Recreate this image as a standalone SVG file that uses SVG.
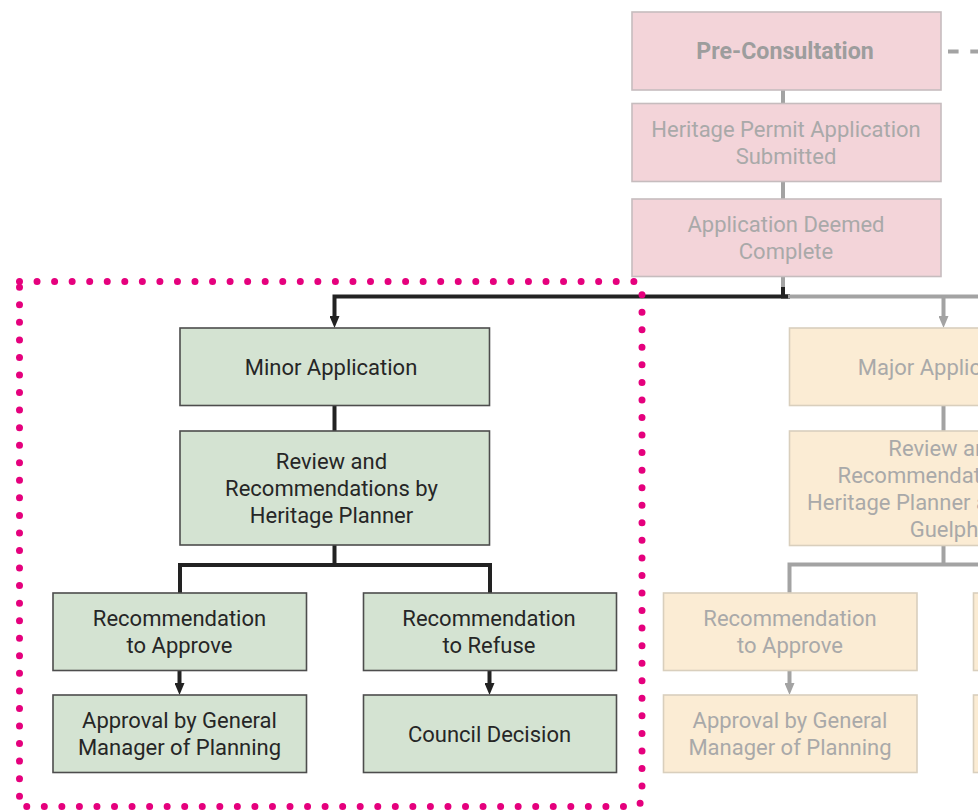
<svg xmlns="http://www.w3.org/2000/svg" width="978" height="811" viewBox="0 0 978 811">
  <style>
    text { font-family: Roboto, "Liberation Sans", Arial, sans-serif; font-size: 22px; text-anchor: middle; }
    .green { fill: #d4e3d2; stroke: #4d4d4d; stroke-width: 1.6; }
    .pink { fill: #f3d4d9; stroke: #c6bcbe; stroke-width: 1.6; }
    .tan { fill: #fbecd4; stroke: #d9cfbd; stroke-width: 1.6; }
    .dark-text { fill: #262626; }
    .faint-text { fill: #a9a9a9; }
    .bold { font-weight: bold; font-size: 23.2px; fill: #9d9d9d; }
    .dark-line { fill: none; stroke: #222222; stroke-width: 4; }
    .faint-line { fill: none; stroke: #a3a3a3; stroke-width: 4; }
    .dotted-frame { fill: none; stroke: #e5007d; stroke-width: 7; stroke-linecap: round; stroke-dasharray: 0 17.55; }
  </style>
  <defs>
    <marker id="ah-dark" viewBox="0 0 12 10" refX="3" refY="5" markerWidth="12" markerHeight="10" markerUnits="userSpaceOnUse" orient="auto">
      <path d="M0,0 L12,5 L0,10 z" fill="#222222"/>
    </marker>
    <marker id="ah-faint" viewBox="0 0 12 10" refX="3" refY="5" markerWidth="12" markerHeight="10" markerUnits="userSpaceOnUse" orient="auto">
      <path d="M0,0 L12,5 L0,10 z" fill="#a3a3a3"/>
    </marker>
  </defs>

  <!-- connectors -->
  <g id="connectors">
    <!-- intake column -->
    <path class="faint-line" d="M783,90 V104"/>
    <path class="faint-line" d="M783,182 V199"/>
    <path class="faint-line" d="M783,277 V289"/>
    <path class="faint-line" d="M948,51.5 H990" stroke-dasharray="10.6 11.7"/>
    <!-- split to minor / major -->
    <path class="dark-line" d="M783,287 V296.5 H790"/>
    <path class="dark-line" d="M790,296.5 H334.5 V319" marker-end="url(#ah-dark)"/>
    <path class="faint-line" d="M788,296.5 H990"/>
    <path class="faint-line" d="M943.5,296.5 V319" marker-end="url(#ah-faint)"/>
    <!-- minor stream -->
    <path class="dark-line" d="M334.5,406 V431"/>
    <path class="dark-line" d="M334.5,545 V565 M180,594 V565 H490 V594"/>
    <path class="dark-line" d="M179.5,671 V686" marker-end="url(#ah-dark)"/>
    <path class="dark-line" d="M489.5,671 V686" marker-end="url(#ah-dark)"/>
    <!-- major stream -->
    <path class="faint-line" d="M943.5,406 V431"/>
    <path class="faint-line" d="M943.5,546 V564.5"/>
    <path class="faint-line" d="M789.5,593 V564.5 H990"/>
    <path class="faint-line" d="M789.5,671 V686" marker-end="url(#ah-faint)"/>
  </g>

  <!-- intake stages -->
  <g id="pre-consultation">
    <rect class="pink" x="632" y="12" width="309" height="78"/>
    <text class="bold" x="785" y="59">Pre-Consultation</text>
  </g>
  <g id="permit-submitted">
    <rect class="pink" x="632" y="103.5" width="309" height="78"/>
    <text class="faint-text" x="786" y="137">Heritage Permit Application</text>
    <text class="faint-text" x="786" y="164">Submitted</text>
  </g>
  <g id="deemed-complete">
    <rect class="pink" x="632" y="199" width="309" height="77.5"/>
    <text class="faint-text" x="786" y="232">Application Deemed</text>
    <text class="faint-text" x="786" y="259">Complete</text>
  </g>

  <!-- minor application stream -->
  <g id="minor-application">
    <rect class="green" x="180" y="328" width="309.5" height="77.5"/>
    <text class="dark-text" x="331" y="375">Minor Application</text>
  </g>
  <g id="minor-review">
    <rect class="green" x="180" y="431" width="309.5" height="114"/>
    <text class="dark-text" x="331.5" y="469">Review and</text>
    <text class="dark-text" x="331.5" y="496">Recommendations by</text>
    <text class="dark-text" x="331.5" y="523">Heritage Planner</text>
  </g>
  <g id="minor-approve">
    <rect class="green" x="53" y="593" width="253.5" height="77.5"/>
    <text class="dark-text" x="179.5" y="626">Recommendation</text>
    <text class="dark-text" x="179.5" y="653">to Approve</text>
  </g>
  <g id="minor-refuse">
    <rect class="green" x="363.5" y="593" width="253" height="77.5"/>
    <text class="dark-text" x="489" y="626">Recommendation</text>
    <text class="dark-text" x="489" y="653">to Refuse</text>
  </g>
  <g id="minor-gm-approval">
    <rect class="green" x="53" y="695" width="253.5" height="77.5"/>
    <text class="dark-text" x="179.5" y="728">Approval by General</text>
    <text class="dark-text" x="179.5" y="755">Manager of Planning</text>
  </g>
  <g id="minor-council">
    <rect class="green" x="363.5" y="695" width="253" height="77.5"/>
    <text class="dark-text" x="489.5" y="742">Council Decision</text>
  </g>

  <!-- major application stream -->
  <g id="major-application">
    <rect class="tan" x="789.5" y="328" width="309.5" height="77.5"/>
    <text class="faint-text" x="944" y="375">Major Application</text>
  </g>
  <g id="major-review">
    <rect class="tan" x="789.5" y="431" width="309.5" height="114.5"/>
    <text class="faint-text" x="944" y="455.5">Review and</text>
    <text class="faint-text" x="944" y="482.5">Recommendations by</text>
    <text class="faint-text" x="944" y="509.5">Heritage Planner and City of</text>
    <text class="faint-text" x="944" y="536.5">Guelph</text>
  </g>
  <g id="major-approve">
    <rect class="tan" x="663.5" y="593" width="253.5" height="77.5"/>
    <text class="faint-text" x="790" y="626">Recommendation</text>
    <text class="faint-text" x="790" y="653">to Approve</text>
  </g>
  <g id="major-gm-approval">
    <rect class="tan" x="663.5" y="695" width="253.5" height="77.5"/>
    <text class="faint-text" x="790" y="728">Approval by General</text>
    <text class="faint-text" x="790" y="755">Manager of Planning</text>
  </g>
  <g id="major-refuse">
    <rect class="tan" x="973.5" y="593" width="253.5" height="77.5"/>
  </g>
  <g id="major-council">
    <rect class="tan" x="973.5" y="695" width="253.5" height="77.5"/>
  </g>

  <!-- highlight around the minor stream -->
  <path class="dotted-frame" d="M19.5,281.5 H632 Q642,281.5 642,291.5 V796.5 Q642,806.5 632,806.5 H19.5 Z"/>
</svg>
